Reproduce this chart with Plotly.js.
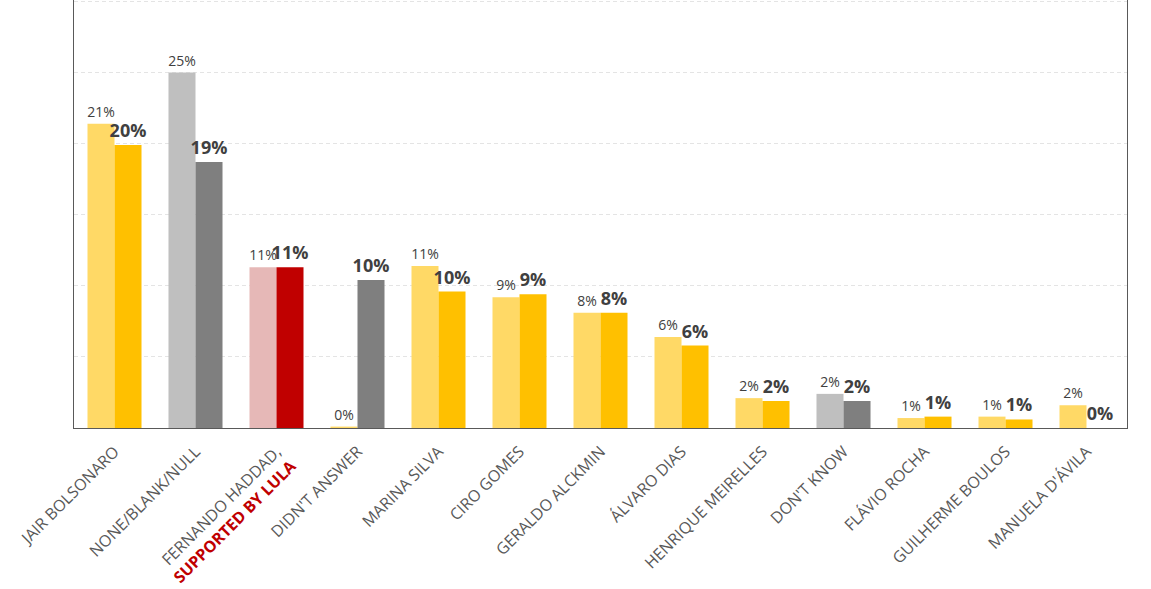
<!DOCTYPE html>
<html>
<head>
<meta charset="utf-8">
<script src="https://cdn.plot.ly/plotly-3.0.1.min.js"></script>
<style>html,body{margin:0;padding:0;background:#fff;}#chart{width:1151px;height:589px;}</style>
</head>
<body>
<div id="chart"></div>
<script>
// Data (percent)
const categories = [
  "JAIR BOLSONARO", "NONE/BLANK/NULL", "FERNANDO HADDAD,<br><span style=\"color:#C00000\"><b>SUPPORTED BY LULA</b></span>",
  "DIDN'T ANSWER", "MARINA SILVA", "CIRO GOMES", "GERALDO ALCKMIN", "ÁLVARO DIAS",
  "HENRIQUE MEIRELLES", "DON'T KNOW", "FLÁVIO ROCHA", "GUILHERME BOULOS", "MANUELA D'ÁVILA"
];
const previousValues = [21.4, 25.0, 11.3, 0.1, 11.4, 9.2, 8.1, 6.4, 2.1, 2.4, 0.7, 0.8, 1.6];
const currentValues  = [19.9, 18.7, 11.3, 10.4, 9.6, 9.4, 8.1, 5.8, 1.9, 1.9, 0.8, 0.6, 0.0];
const previousLabels = ["21%","25%","11%","0%","11%","9%","8%","6%","2%","2%","1%","1%","2%"];
const currentLabels  = ["20%","19%","11%","10%","10%","9%","8%","6%","2%","2%","1%","1%","0%"];
const previousColors = ["#FFD966","#BFBFBF","#E6B8B7","#FFD966","#FFD966","#FFD966","#FFD966","#FFD966","#FFD966","#BFBFBF","#FFD966","#FFD966","#FFD966"];
const currentColors  = ["#FFC000","#7F7F7F","#C00000","#7F7F7F","#FFC000","#FFC000","#FFC000","#FFC000","#FFC000","#7F7F7F","#FFC000","#FFC000","#FFC000"];

const xs = categories.map((c, i) => i);

const traces = [
  {
    type: "bar", x: xs, y: previousValues, marker: {color: previousColors},
    text: previousLabels, textposition: "outside", cliponaxis: false, constraintext: "none",
    textfont: {family: "Open Sans, sans-serif", size: 14, color: "#404040"},
    hoverinfo: "skip", showlegend: false
  },
  {
    type: "bar", x: xs, y: currentValues, marker: {color: currentColors},
    text: currentLabels.map(t => "<b>" + t + "</b>"), textposition: "outside", cliponaxis: false, constraintext: "none",
    textfont: {family: "Open Sans, sans-serif", size: 18, color: "#404040"},
    hoverinfo: "skip", showlegend: false
  }
];

const layout = {
  width: 1151, height: 589,
  margin: {l: 74, r: 24, t: 0, b: 161},
  paper_bgcolor: "#ffffff", plot_bgcolor: "#ffffff",
  barmode: "group", bargap: 0.333, bargroupgap: 0,
  xaxis: {
    tickmode: "array", tickvals: xs, ticktext: categories,
    tickangle: -45, range: [-0.5, 12.5], ticklabelstandoff: 7,
    tickfont: {family: "Open Sans, sans-serif", size: 16, color: "#595959"},
    showline: true, linecolor: "#595959", linewidth: 1,
    showgrid: false, ticks: "", zeroline: false
  },
  yaxis: {
    range: [0, 30.1], dtick: 5, showticklabels: false,
    showgrid: true, gridcolor: "#E4E4E4", griddash: "4px,3px", gridwidth: 1,
    zeroline: false, showline: true, mirror: true, linecolor: "#595959", linewidth: 1, ticks: ""
  },
  font: {family: "Open Sans, sans-serif"}
};

Plotly.newPlot("chart", traces, layout, {displayModeBar: false, staticPlot: true});
</script>
</body>
</html>
